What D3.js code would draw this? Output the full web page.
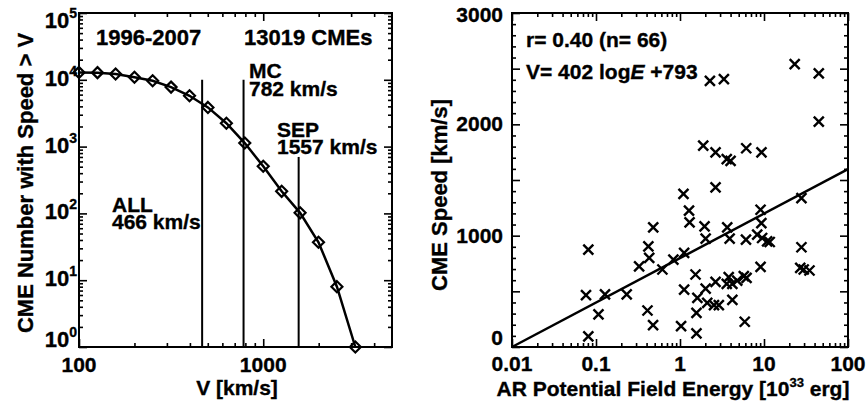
<!DOCTYPE html>
<html>
<head>
<meta charset="utf-8">
<script src="https://cdn.jsdelivr.net/npm/d3@7"></script>
<style>
body { margin: 0; background: #fff; }
text { font-family: "Liberation Sans", Arial, Helvetica, sans-serif; font-weight: bold; fill: #000; stroke: #000; stroke-width: 0.35; }
</style>
</head>
<body>
<div id="chart"></div>
<script>
// ---- datos panel izquierdo: distribución acumulada de velocidades
var cumSpeed = [100, 126, 158, 200, 251, 316, 398, 501, 631, 794, 1000, 1259, 1585, 1995, 2512, 3162];
var cumCount = [12900, 12800, 12200, 10900, 9660, 7770, 5760, 3860, 2240, 1130, 507, 214, 102, 37, 8, 1];
var refNames = ["ALL", "MC", "SEP"];
var refSpeeds = [466, 782, 1557];
var refTops = [10000, 10000, 700];
var leftXTicks = [100, 1000];
var leftYTicks = [1, 10, 100, 1000, 10000, 100000];

// ---- datos panel derecho: energía AR vs velocidad CME
var arEnergy = [0.081, 0.076, 0.081, 0.107, 0.128, 0.232, 0.326, 0.42, 0.43, 0.41, 0.478, 0.48, 0.617, 0.834,
  1.12, 1.03, 1.12, 1.1, 1.28, 1.3, 1.53, 1.61, 1.57, 1.57, 1.89, 1.96, 2.02, 2.02, 2.11, 2.27, 3.33,
  2.65, 2.65, 2.65, 2.54, 2.9, 3.65, 3.6, 4.0, 3.6, 3.8, 4.2, 3.9, 4.2, 4.8, 6.14, 6.1, 5.75, 6.2, 5.9,
  9.33, 9.1, 9.3, 8.3, 9.5, 9.1, 10.9, 11.7, 23.2, 27.9, 27.9, 27, 29.7, 34.8, 44.9, 44.9];
var cmeSpeed = [875, 466, 95, 293, 472, 472, 725, 904, 800, 328, 197, 1075, 696, 785,
  845, 188, 516, 1376, 1225, 1120, 651, 442, 307, 122, 1809, 1084, 973, 525, 397, 2391, 2406,
  1749, 1433, 585, 376, 376, 1075, 1687, 1672, 567, 627, 567, 973, 424, 597, 1785, 964, 636, 621, 227,
  1749, 1233, 1113, 1009, 979, 719, 949, 943, 2540, 1337, 896, 710, 696, 687, 2457, 2024];
var fitSlope = 402, fitIntercept = 793;
var rightXTicks = [0.01, 0.1, 1, 10, 100];
var rightYTicks = [0, 1000, 2000, 3000];
var rightYMajor = [0, 500, 1000, 1500, 2000, 2500, 3000];

var W = 868, H = 402;
var svg = d3.select("#chart").append("svg")
  .attr("width", W).attr("height", H)
  .style("background", "#fff");

// minor ticks de un eje log (2..9 por década)
function logMinors(lo, hi) {
  var out = [];
  for (var d = Math.floor(Math.log10(lo)); d <= Math.ceil(Math.log10(hi)); d++) {
    for (var k = 2; k <= 9; k++) {
      var v = k * Math.pow(10, d);
      if (v > lo && v < hi) out.push(v);
    }
  }
  return out;
}

// marco con ticks hacia adentro en los 4 lados
function frame(g, x, y, xMaj, xMin, yMaj, yMin) {
  var xr = x.range(), yr = y.range();
  var sides = [
    [d3.axisBottom, x, xMaj, xMin, "translate(0," + yr[0] + ")"],
    [d3.axisTop, x, xMaj, xMin, "translate(0," + yr[1] + ")"],
    [d3.axisLeft, y, yMaj, yMin, "translate(" + xr[0] + ",0)"],
    [d3.axisRight, y, yMaj, yMin, "translate(" + xr[1] + ",0)"]
  ];
  sides.forEach(function (s) {
    [[s[2], -8], [s[3], -4]].forEach(function (t) {
      var a = g.append("g").attr("transform", s[4])
        .call(s[0](s[1]).tickValues(t[0]).tickSize(t[1]).tickSizeOuter(0).tickFormat(""));
      a.select(".domain").remove();
      a.selectAll("line").attr("stroke", "#000").attr("stroke-width", 1.6);
    });
  });
  g.append("rect")
    .attr("x", xr[0]).attr("y", yr[1])
    .attr("width", xr[1] - xr[0]).attr("height", yr[0] - yr[1])
    .attr("fill", "none").attr("stroke", "#000").attr("stroke-width", 2);
}

// texto de una o varias líneas (una sola etiqueta)
function txt(g, x, y, lines, size, step) {
  var t = g.append("text").attr("x", x).attr("y", y).attr("font-size", size);
  [].concat(lines).forEach(function (s, i) {
    t.append("tspan").attr("x", x).attr("dy", i ? step : 0).text(s);
  });
  return t;
}

//************* panel izquierdo ******************/
var gL = svg.append("g");
var xL = d3.scaleLog().domain([100, 5000]).range([79, 392]);
var yL = d3.scaleLog().domain([1, 100000]).range([347, 13]);

frame(gL, xL, yL, leftXTicks, logMinors(100, 5000), leftYTicks, logMinors(1, 100000));

// etiquetas eje y con exponente
gL.selectAll(".ylab").data(leftYTicks).join("text")
  .attr("class", "ylab")
  .attr("x", 77)
  .attr("y", function (d) { return Math.min(Math.max(yL(d) + 6, 28), 347); })
  .attr("text-anchor", "end")
  .attr("font-size", 22)
  .each(function (d) {
    var t = d3.select(this);
    t.append("tspan").text("10");
    t.append("tspan").attr("dy", -10).attr("font-size", 14).text(Math.round(Math.log10(d)));
  });

gL.selectAll(".xlab").data(leftXTicks).join("text")
  .attr("class", "xlab")
  .attr("x", function (d) { return xL(d); })
  .attr("y", 372)
  .attr("text-anchor", "middle")
  .attr("font-size", 21)
  .text(function (d) { return d; });

gL.append("text").attr("x", 237).attr("y", 395)
  .attr("text-anchor", "middle").attr("font-size", 21).text("V [km/s]");
gL.append("text")
  .attr("transform", "translate(33,183) rotate(-90)")
  .attr("text-anchor", "middle").attr("font-size", 22)
  .text("CME Number with Speed > V");

// líneas verticales de referencia
gL.selectAll(".ref").data(refSpeeds).join("line")
  .attr("x1", function (d) { return xL(d); })
  .attr("x2", function (d) { return xL(d); })
  .attr("y1", function (d, i) { return yL(refTops[i]); })
  .attr("y2", yL(1))
  .attr("stroke", "#000").attr("stroke-width", 2);

// curva acumulada
var cum = cumSpeed.map(function (v, i) { return { v: v, n: cumCount[i] }; });
gL.append("path").datum(cum)
  .attr("fill", "none").attr("stroke", "#000").attr("stroke-width", 2.5)
  .attr("d", d3.line().x(function (d) { return xL(d.v); }).y(function (d) { return yL(d.n); }));
gL.selectAll(".dia").data(cum).join("path")
  .attr("transform", function (d) { return "translate(" + xL(d.v) + "," + yL(d.n) + ")"; })
  .attr("d", "M0,-5.5L5.5,0L0,5.5L-5.5,0Z")
  .attr("fill", "none").attr("stroke", "#000").attr("stroke-width", 2.2);

txt(gL, 96, 45, "1996-2007", 22);
txt(gL, 244, 45, "13019 CMEs", 22);
txt(gL, 249, 78, [refNames[1], refSpeeds[1] + " km/s"], 21, 18);
txt(gL, 277, 137, [refNames[2], refSpeeds[2] + " km/s"], 21, 17);
txt(gL, 112, 212, [refNames[0], refSpeeds[0] + " km/s"], 21, 17);

//************* panel derecho ******************/
var gR = svg.append("g");
var xR = d3.scaleLog().domain([0.01, 100]).range([512, 848]);
var yR = d3.scaleLinear().domain([0, 3000]).range([347, 13]);

frame(gR, xR, yR, rightXTicks, logMinors(0.01, 100), rightYMajor,
  d3.range(100, 3000, 100).filter(function (d) { return d % 500; }));

gR.selectAll(".ylab").data(rightYTicks).join("text")
  .attr("x", 503)
  .attr("y", function (d) { return Math.min(Math.max(yR(d) + 7, 22), 345); })
  .attr("text-anchor", "end").attr("font-size", 21)
  .text(function (d) { return d; });

gR.selectAll(".xlab").data(rightXTicks).join("text")
  .attr("x", function (d) { return xR(d); })
  .attr("y", 371)
  .attr("text-anchor", "middle").attr("font-size", 21)
  .text(function (d) { return d; });

var xt = gR.append("text").attr("x", 673).attr("y", 396)
  .attr("text-anchor", "middle").attr("font-size", 21);
xt.append("tspan").text("AR Potential Field Energy [10");
xt.append("tspan").attr("dy", -9).attr("font-size", 13).text("33");
xt.append("tspan").attr("dy", 9).text(" erg]");

gR.append("text")
  .attr("transform", "translate(447,195) rotate(-90)")
  .attr("text-anchor", "middle").attr("font-size", 22)
  .text("CME Speed [km/s]");

// recta de ajuste
var fit = [rightXTicks[0], rightXTicks[rightXTicks.length - 1]];
gR.append("path").datum(fit)
  .attr("fill", "none").attr("stroke", "#000").attr("stroke-width", 2.5)
  .attr("d", d3.line()
    .x(function (d) { return xR(d); })
    .y(function (d) { return yR(Math.max(0, fitSlope * Math.log10(d) + fitIntercept)); }));

// puntos (cruces)
gR.selectAll(".pt").data(arEnergy).join("path")
  .attr("transform", function (d, i) { return "translate(" + xR(d) + "," + yR(cmeSpeed[i]) + ")"; })
  .attr("d", "M-5,-5L5,5M-5,5L5,-5")
  .attr("stroke", "#000").attr("stroke-width", 2.4).attr("fill", "none");

txt(gR, 526, 47, "r= 0.40 (n= " + arEnergy.length + ")", 21);
var eq = gR.append("text").attr("x", 526).attr("y", 79).attr("font-size", 21);
eq.append("tspan").text("V= " + fitSlope + " log");
eq.append("tspan").attr("font-style", "italic").text("E");
eq.append("tspan").text(" +" + fitIntercept);
</script>
</body>
</html>
